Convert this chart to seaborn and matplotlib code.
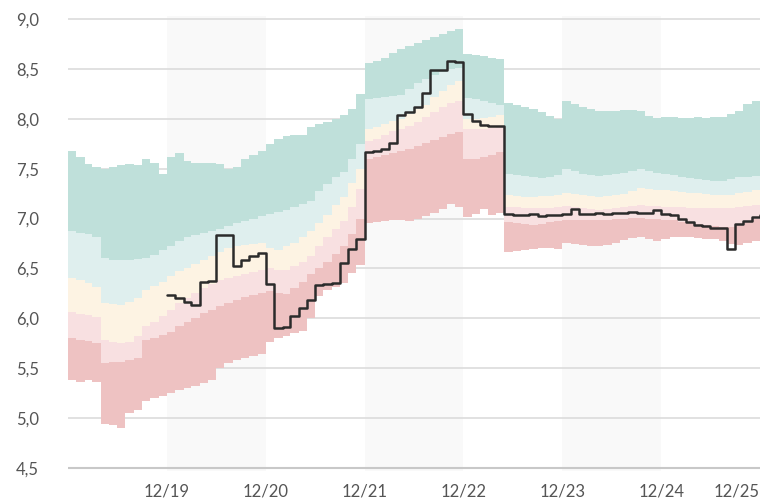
import numpy as np
import pandas as pd
import matplotlib
matplotlib.use('Agg')
import matplotlib.pyplot as plt
import seaborn as sns

# monthly points, Dec 2018 .. Dec 2025
months = pd.date_range('2018-12-01', '2025-12-01', freq='MS')

# band boundaries (bottom of red band up to top of teal band)
red_low = [5.38, 5.36, 5.38, 5.36, 4.94, 4.93, 4.90, 5.05, 5.08, 5.17, 5.20, 5.22,
           5.25, 5.28, 5.30, 5.32, 5.35, 5.38, 5.50, 5.55, 5.58, 5.60, 5.62, 5.64,
           5.76, 5.80, 5.82, 5.85, 5.87, 6.00, 6.22, 6.28, 6.31, 6.35, 6.45, 6.53,
           6.96, 6.97, 6.98, 6.99, 6.99, 6.98, 7.00, 7.03, 7.06, 7.10, 7.15, 7.12,
           7.02, 7.05, 7.10, 7.04, 7.06, 6.66, 6.67, 6.68, 6.69, 6.70, 6.70, 6.69,
           6.76, 6.75, 6.74, 6.73, 6.72, 6.74, 6.76, 6.79, 6.81, 6.82, 6.80, 6.78,
           6.80, 6.82, 6.82, 6.82, 6.81, 6.80, 6.80, 6.78, 6.75, 6.74, 6.76, 6.78, 6.79]
red_high = [5.80, 5.78, 5.77, 5.75, 5.55, 5.56, 5.56, 5.58, 5.60, 5.78, 5.80, 5.83,
            5.86, 5.92, 5.96, 6.00, 6.05, 6.08, 6.12, 6.15, 6.18, 6.21, 6.23, 6.25,
            6.27, 6.25, 6.24, 6.30, 6.36, 6.44, 6.50, 6.56, 6.64, 6.72, 6.85, 7.00,
            7.60, 7.62, 7.64, 7.66, 7.68, 7.70, 7.73, 7.76, 7.79, 7.82, 7.85, 7.87,
            7.60, 7.60, 7.62, 7.64, 7.67, 6.97, 6.96, 6.95, 6.94, 6.95, 6.97, 6.98,
            6.99, 6.99, 6.99, 6.99, 6.99, 6.99, 7.00, 7.00, 7.01, 7.01, 7.00, 7.00,
            6.99, 6.99, 6.97, 6.96, 6.95, 6.94, 6.93, 6.92, 6.92, 6.95, 6.98, 7.00, 7.01]
pink_high = [6.06, 6.04, 6.03, 6.01, 5.78, 5.76, 5.75, 5.76, 5.82, 5.92, 5.96, 6.02,
             6.08, 6.15, 6.20, 6.25, 6.30, 6.34, 6.38, 6.40, 6.42, 6.44, 6.46, 6.48,
             6.50, 6.48, 6.48, 6.52, 6.56, 6.62, 6.72, 6.82, 6.90, 6.98, 7.12, 7.30,
             7.78, 7.80, 7.84, 7.88, 7.90, 7.93, 7.97, 8.02, 8.07, 8.12, 8.16, 8.18,
             7.90, 7.90, 7.90, 7.91, 7.92, 7.12, 7.12, 7.11, 7.11, 7.11, 7.11, 7.12,
             7.13, 7.12, 7.11, 7.10, 7.09, 7.10, 7.11, 7.12, 7.13, 7.14, 7.13, 7.13,
             7.12, 7.12, 7.12, 7.11, 7.11, 7.11, 7.11, 7.11, 7.11, 7.12, 7.13, 7.14, 7.14]
yellow_high = [6.40, 6.38, 6.35, 6.31, 6.15, 6.14, 6.13, 6.16, 6.20, 6.28, 6.32, 6.36,
               6.42, 6.47, 6.50, 6.54, 6.58, 6.62, 6.66, 6.70, 6.72, 6.74, 6.75, 6.76,
               6.70, 6.68, 6.72, 6.76, 6.82, 6.88, 6.96, 7.04, 7.14, 7.22, 7.36, 7.50,
               7.90, 7.92, 7.95, 7.98, 8.00, 8.05, 8.10, 8.14, 8.22, 8.28, 8.34, 8.38,
               8.00, 8.00, 8.01, 8.02, 8.04, 7.24, 7.23, 7.22, 7.22, 7.23, 7.23, 7.24,
               7.26, 7.25, 7.24, 7.23, 7.22, 7.23, 7.24, 7.25, 7.28, 7.31, 7.30, 7.29,
               7.29, 7.28, 7.27, 7.26, 7.26, 7.25, 7.24, 7.24, 7.24, 7.26, 7.27, 7.29, 7.29]
blue_high = [6.88, 6.86, 6.85, 6.82, 6.60, 6.58, 6.58, 6.58, 6.59, 6.60, 6.63, 6.68,
             6.72, 6.78, 6.82, 6.84, 6.86, 6.88, 6.90, 6.93, 6.96, 6.98, 7.00, 7.03,
             7.05, 7.07, 7.09, 7.12, 7.15, 7.18, 7.28, 7.35, 7.42, 7.47, 7.60, 7.75,
             8.20, 8.21, 8.22, 8.23, 8.24, 8.30, 8.36, 8.40, 8.44, 8.47, 8.50, 8.51,
             8.21, 8.20, 8.18, 8.16, 8.14, 7.45, 7.44, 7.43, 7.42, 7.41, 7.42, 7.44,
             7.50, 7.48, 7.45, 7.44, 7.43, 7.44, 7.45, 7.46, 7.48, 7.50, 7.48, 7.46,
             7.45, 7.44, 7.42, 7.41, 7.40, 7.39, 7.38, 7.38, 7.40, 7.42, 7.42, 7.43, 7.43]
teal_high = [7.68, 7.62, 7.55, 7.52, 7.50, 7.52, 7.54, 7.55, 7.54, 7.60, 7.56, 7.45,
             7.62, 7.66, 7.58, 7.56, 7.56, 7.56, 7.55, 7.50, 7.52, 7.60, 7.64, 7.68,
             7.75, 7.80, 7.83, 7.84, 7.84, 7.92, 7.95, 7.97, 8.00, 8.04, 8.10, 8.25,
             8.56, 8.58, 8.61, 8.66, 8.70, 8.73, 8.76, 8.79, 8.82, 8.85, 8.88, 8.90,
             8.65, 8.64, 8.63, 8.61, 8.60, 8.16, 8.14, 8.12, 8.10, 8.07, 8.03, 8.00,
             8.18, 8.15, 8.12, 8.10, 8.08, 8.08, 8.08, 8.09, 8.09, 8.08, 8.03, 8.01,
             8.02, 8.02, 8.01, 8.01, 8.02, 8.01, 8.02, 8.02, 8.05, 8.08, 8.15, 8.18, 8.18]

# black line, Dec 2019 .. Dec 2025
rate_dates = months[12:]
rate = [6.23, 6.20, 6.16, 6.13, 6.36, 6.37, 6.84, 6.84, 6.52, 6.58, 6.62, 6.65,
        6.34, 5.90, 5.91, 6.02, 6.10, 6.18, 6.33, 6.34, 6.35, 6.55, 6.69, 6.80,
        7.67, 7.68, 7.70, 7.76, 8.04, 8.07, 8.12, 8.26, 8.49, 8.49, 8.58, 8.57,
        8.05, 7.98, 7.94, 7.93, 7.93, 7.05, 7.04, 7.04, 7.05, 7.03, 7.04, 7.04,
        7.05, 7.10, 7.05, 7.05, 7.06, 7.05, 7.06, 7.06, 7.07, 7.06, 7.06, 7.09,
        7.05, 7.04, 7.00, 6.97, 6.94, 6.93, 6.91, 6.91, 6.69, 6.95, 6.98, 7.02, 7.04]

band_colors = ['#eec2c2', '#f8e0e1', '#fdf3e3', '#dfefee', '#bfe0da']
shade_years = [2019, 2021, 2023]
tick_labels = ['12/19', '12/20', '12/21', '12/22', '12/23', '12/24', '12/25']
yticks = [4.5, 5.0, 5.5, 6.0, 6.5, 7.0, 7.5, 8.0, 8.5, 9.0]

sns.set_theme(style='white')
plt.rcParams['font.family'] = ['Lato', 'DejaVu Sans']

fig = plt.figure(figsize=(7.6, 5.04), dpi=100)
ax = fig.add_axes([68 / 760, 0.0657, 692 / 760, 0.968 - 0.0657])

# light grey columns every other year
for y in shade_years:
    ax.axvspan(pd.Timestamp(f'{y}-12-01'), pd.Timestamp(f'{y + 1}-12-01'),
               color='#f9f9f9', lw=0, zorder=0)

bounds = [red_low, red_high, pink_high, yellow_high, blue_high, teal_high]
for lo, hi, c in zip(bounds[:-1], bounds[1:], band_colors):
    ax.fill_between(months, lo, hi, step='post', color=c, lw=0, zorder=2)

sns.lineplot(x=rate_dates, y=rate, ax=ax, color='#2b2b2b', lw=1.8,
             drawstyle='steps-post', estimator=None, zorder=5)

for v in yticks[1:]:
    ax.axhline(v, color='#dedede', lw=1.3, zorder=1)
ax.axhline(4.5, color='#c8c8c8', lw=1.5, zorder=1)

ax.set_xlim(months[0], months[-1])
ax.set_ylim(4.47, 9.03)
ax.set_yticks(yticks, labels=[f'{v:.1f}'.replace('.', ',') for v in yticks])
tick_dates = pd.to_datetime([f'20{l[3:]}-12-01' for l in tick_labels])
ax.set_xticks(tick_dates, labels=tick_labels)
ax.get_xticklabels()[-1].set_ha('right')
ax.set_xlabel('')
ax.set_ylabel('')
ax.tick_params(axis='both', length=0, labelsize=12, colors='#555555')
ax.tick_params(axis='y', pad=21)
ax.tick_params(axis='x', pad=9)
sns.despine(ax=ax, left=True, bottom=True)

fig.savefig('out.png', dpi=100)
